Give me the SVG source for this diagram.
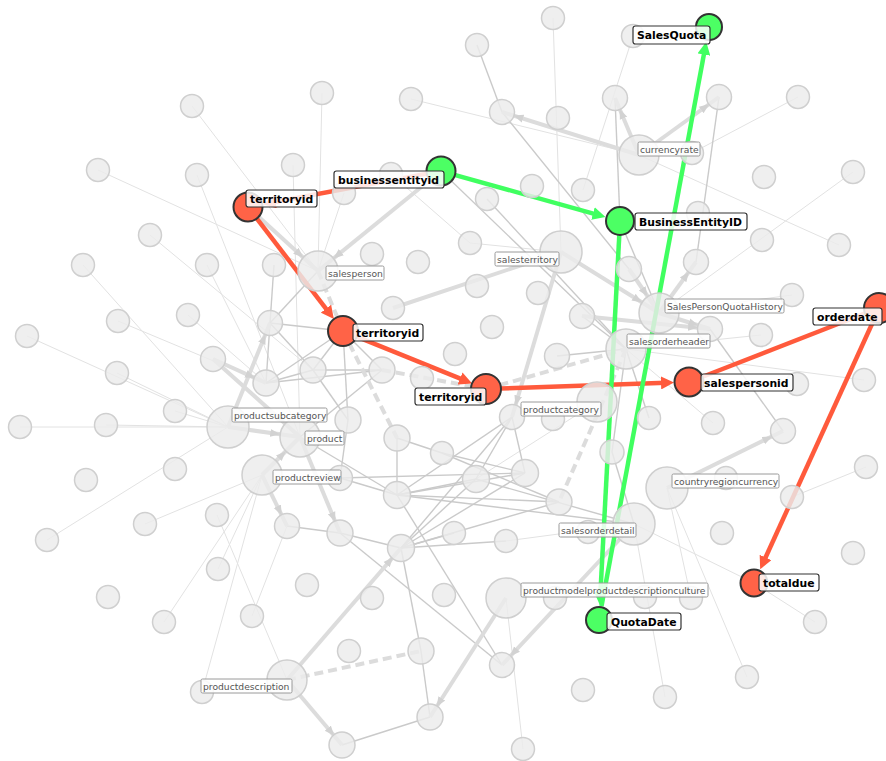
<svg xmlns="http://www.w3.org/2000/svg" width="886" height="761" viewBox="0 0 886 761">
<style>
.t{fill:none;stroke:#e2e2e2;stroke-width:1}
.m{fill:none;stroke:#cacaca;stroke-width:1.4}
.k{fill:none;stroke:#dcdcdc;stroke-width:4}
.d{fill:none;stroke:#dcdcdc;stroke-width:4;stroke-dasharray:9 5}
.or{fill:none;stroke:#ff5a3c;stroke-width:4.5}
.gr{fill:none;stroke:#40ff60;stroke-width:4.5}
.n{fill:#ececec;fill-opacity:.82;stroke:#cfcfcf;stroke-width:1.5}
.ho{fill:#ff6347;stroke:#333;stroke-width:2}
.hg{fill:#4cff64;stroke:#333;stroke-width:2}
.lb{fill:#fff;fill-opacity:.85;stroke:#9a9a9a;stroke-width:1}
.lt{font-family:"DejaVu Sans","Noto Sans",sans-serif;font-size:9.2px;fill:#555}
.hb{fill:#fff;fill-opacity:.85;stroke:#333;stroke-width:1.2}
.ht{font-family:"DejaVu Sans","Noto Sans",sans-serif;font-size:10.8px;font-weight:bold;fill:#000}
</style>
<defs>
<marker id="ag12" viewBox="0 0 10 10" refX="22" refY="5" markerWidth="10" markerHeight="10" markerUnits="userSpaceOnUse" orient="auto"><path d="M0,1 L10,5 L0,9z" fill="#d2d2d2"/></marker>
<marker id="ag20" viewBox="0 0 10 10" refX="30" refY="5" markerWidth="10" markerHeight="10" markerUnits="userSpaceOnUse" orient="auto"><path d="M0,1 L10,5 L0,9z" fill="#d2d2d2"/></marker>
<marker id="ao" viewBox="0 0 10 10" refX="3.85" refY="5" markerWidth="13" markerHeight="13" markerUnits="userSpaceOnUse" orient="auto"><path d="M0,0 L10,5 L0,10z" fill="#ff5a3c"/></marker>
<marker id="agr" viewBox="0 0 10 10" refX="3.85" refY="5" markerWidth="13" markerHeight="13" markerUnits="userSpaceOnUse" orient="auto"><path d="M0,0 L10,5 L0,10z" fill="#40ff60"/></marker>
</defs>
<rect width="886" height="761" fill="#fff"/>
<g id="connectors">
<g id="thin">
<line class="t" x1="192" y1="106" x2="318" y2="271"/>
<line class="t" x1="98" y1="170" x2="318" y2="271"/>
<line class="t" x1="197" y1="175" x2="300" y2="437"/>
<line class="t" x1="150" y1="235" x2="313" y2="370"/>
<line class="t" x1="322" y1="93" x2="318" y2="271"/>
<line class="t" x1="293" y1="165" x2="300" y2="437"/>
<line class="t" x1="344" y1="193" x2="318" y2="271"/>
<line class="t" x1="411" y1="99" x2="639" y2="155"/>
<line class="t" x1="553" y1="18" x2="561" y2="252"/>
<line class="t" x1="798" y1="97" x2="692" y2="153"/>
<line class="t" x1="639" y1="155" x2="839" y2="245"/>
<line class="t" x1="853" y1="172" x2="659" y2="313"/>
<line class="t" x1="633" y1="36" x2="583" y2="190"/>
<line class="t" x1="391" y1="174" x2="470" y2="243"/>
<line class="t" x1="561" y1="252" x2="470" y2="243"/>
<line class="t" x1="626" y1="349" x2="864" y2="380"/>
<line class="t" x1="626" y1="349" x2="761" y2="335"/>
<line class="t" x1="792" y1="295" x2="659" y2="313"/>
<line class="t" x1="866" y1="467" x2="792" y2="497"/>
<line class="t" x1="634" y1="524" x2="754" y2="583"/>
<line class="t" x1="754" y1="583" x2="815" y2="622"/>
<line class="t" x1="634" y1="524" x2="665" y2="697"/>
<line class="t" x1="667" y1="488" x2="747" y2="677"/>
<line class="t" x1="667" y1="488" x2="691" y2="598"/>
<line class="t" x1="188" y1="315" x2="266" y2="383"/>
<line class="t" x1="118" y1="321" x2="266" y2="383"/>
<line class="t" x1="117" y1="373" x2="228" y2="427"/>
<line class="t" x1="27" y1="336" x2="228" y2="427"/>
<line class="t" x1="83" y1="265" x2="228" y2="427"/>
<line class="t" x1="207" y1="265" x2="266" y2="383"/>
<line class="t" x1="20" y1="427" x2="228" y2="427"/>
<line class="t" x1="106" y1="425" x2="228" y2="427"/>
<line class="t" x1="175" y1="411" x2="228" y2="427"/>
<line class="t" x1="47" y1="540" x2="228" y2="427"/>
<line class="t" x1="145" y1="524" x2="262" y2="475"/>
<line class="t" x1="218" y1="569" x2="262" y2="475"/>
<line class="t" x1="164" y1="622" x2="262" y2="475"/>
<line class="t" x1="202" y1="692" x2="262" y2="475"/>
<line class="t" x1="217" y1="515" x2="287" y2="680"/>
<line class="t" x1="252" y1="616" x2="287" y2="526"/>
<line class="t" x1="506" y1="598" x2="523" y2="749"/>
<line class="t" x1="634" y1="524" x2="506" y2="541"/>
<line class="t" x1="713" y1="423" x2="626" y2="349"/>
<line class="t" x1="597" y1="402" x2="476" y2="479"/>
</g>
<g id="medium">
<line class="m" x1="477" y1="45" x2="502" y2="112"/>
<line class="m" x1="615" y1="98" x2="620" y2="221"/>
<line class="m" x1="719" y1="97" x2="696" y2="262"/>
<line class="m" x1="502" y1="112" x2="629" y2="269"/>
<line class="m" x1="441" y1="171" x2="626" y2="349"/>
<line class="m" x1="487" y1="199" x2="626" y2="349"/>
<line class="m" x1="620" y1="221" x2="659" y2="313"/>
<line class="m" x1="626" y1="349" x2="582" y2="316"/>
<line class="m" x1="626" y1="349" x2="557" y2="356"/>
<line class="m" x1="626" y1="349" x2="649" y2="418"/>
<line class="m" x1="626" y1="349" x2="612" y2="452"/>
<line class="m" x1="710" y1="329" x2="783" y2="431"/>
<line class="m" x1="343" y1="331" x2="270" y2="323"/>
<line class="m" x1="343" y1="331" x2="266" y2="383"/>
<line class="m" x1="343" y1="331" x2="313" y2="370"/>
<line class="m" x1="343" y1="331" x2="382" y2="370"/>
<line class="m" x1="343" y1="331" x2="348" y2="420"/>
<line class="m" x1="318" y1="271" x2="270" y2="323"/>
<line class="m" x1="270" y1="323" x2="266" y2="383"/>
<line class="m" x1="270" y1="323" x2="313" y2="370"/>
<line class="m" x1="266" y1="383" x2="313" y2="370"/>
<line class="m" x1="266" y1="383" x2="382" y2="370"/>
<line class="m" x1="313" y1="370" x2="382" y2="370"/>
<line class="m" x1="313" y1="370" x2="348" y2="420"/>
<line class="m" x1="382" y1="370" x2="300" y2="437"/>
<line class="m" x1="274" y1="265" x2="270" y2="323"/>
<line class="m" x1="300" y1="437" x2="397" y2="495"/>
<line class="m" x1="340" y1="478" x2="397" y2="495"/>
<line class="m" x1="340" y1="478" x2="525" y2="473"/>
<line class="m" x1="348" y1="420" x2="340" y2="478"/>
<line class="m" x1="397" y1="438" x2="397" y2="495"/>
<line class="m" x1="512" y1="417" x2="476" y2="479"/>
<line class="m" x1="512" y1="417" x2="397" y2="495"/>
<line class="m" x1="512" y1="417" x2="401" y2="548"/>
<line class="m" x1="512" y1="417" x2="525" y2="473"/>
<line class="m" x1="442" y1="453" x2="559" y2="502"/>
<line class="m" x1="442" y1="453" x2="525" y2="473"/>
<line class="m" x1="397" y1="438" x2="442" y2="453"/>
<line class="m" x1="397" y1="495" x2="525" y2="473"/>
<line class="m" x1="397" y1="495" x2="559" y2="502"/>
<line class="m" x1="397" y1="495" x2="476" y2="479"/>
<line class="m" x1="397" y1="495" x2="634" y2="524"/>
<line class="m" x1="476" y1="479" x2="634" y2="524"/>
<line class="m" x1="401" y1="548" x2="525" y2="473"/>
<line class="m" x1="401" y1="548" x2="559" y2="502"/>
<line class="m" x1="401" y1="548" x2="476" y2="479"/>
<line class="m" x1="401" y1="548" x2="506" y2="541"/>
<line class="m" x1="401" y1="548" x2="454" y2="533"/>
<line class="m" x1="401" y1="548" x2="340" y2="533"/>
<line class="m" x1="401" y1="548" x2="421" y2="651"/>
<line class="m" x1="421" y1="651" x2="430" y2="717"/>
<line class="m" x1="397" y1="495" x2="502" y2="665"/>
<line class="m" x1="340" y1="533" x2="502" y2="665"/>
<line class="m" x1="287" y1="526" x2="340" y2="533"/>
<line class="m" x1="342" y1="745" x2="430" y2="717"/>
<line class="m" x1="612" y1="452" x2="634" y2="524"/>
</g>
<g id="thick">
<line class="k" x1="639" y1="155" x2="502" y2="112" marker-end="url(#ag12)"/>
<line class="k" x1="639" y1="155" x2="615" y2="98" marker-end="url(#ag12)"/>
<line class="k" x1="639" y1="155" x2="719" y2="97" marker-end="url(#ag12)"/>
<line class="k" x1="441" y1="171" x2="318" y2="271" marker-end="url(#ag20)"/>
<line class="k" x1="248" y1="207" x2="318" y2="271" marker-end="url(#ag20)"/>
<line class="k" x1="393" y1="308" x2="561" y2="252" marker-end="url(#ag20)"/>
<line class="k" x1="561" y1="252" x2="659" y2="313" marker-end="url(#ag20)"/>
<line class="k" x1="561" y1="252" x2="512" y2="417" marker-end="url(#ag12)"/>
<line class="k" x1="659" y1="313" x2="696" y2="262" marker-end="url(#ag12)"/>
<line class="k" x1="659" y1="313" x2="710" y2="329" marker-end="url(#ag12)"/>
<line class="k" x1="582" y1="316" x2="710" y2="329" marker-end="url(#ag12)"/>
<line class="k" x1="629" y1="269" x2="659" y2="313" marker-end="url(#ag20)"/>
<line class="k" x1="667" y1="488" x2="783" y2="431" marker-end="url(#ag12)"/>
<line class="k" x1="228" y1="427" x2="270" y2="323" marker-end="url(#ag12)"/>
<line class="k" x1="228" y1="427" x2="300" y2="437" marker-end="url(#ag20)"/>
<line class="k" x1="213" y1="359" x2="266" y2="383" marker-end="url(#ag12)"/>
<line class="k" x1="213" y1="359" x2="300" y2="437" marker-end="url(#ag20)"/>
<line class="k" x1="262" y1="475" x2="300" y2="437" marker-end="url(#ag20)"/>
<line class="k" x1="262" y1="475" x2="287" y2="526" marker-end="url(#ag12)"/>
<line class="k" x1="300" y1="437" x2="340" y2="533" marker-end="url(#ag12)"/>
<line class="k" x1="287" y1="680" x2="401" y2="548" marker-end="url(#ag12)"/>
<line class="k" x1="287" y1="680" x2="342" y2="745" marker-end="url(#ag12)"/>
<line class="k" x1="506" y1="598" x2="430" y2="717" marker-end="url(#ag12)"/>
<line class="k" x1="634" y1="524" x2="502" y2="665" marker-end="url(#ag12)"/>
<line class="d" x1="318" y1="271" x2="343" y2="331"/>
<line class="d" x1="343" y1="331" x2="397" y2="438"/>
<line class="d" x1="626" y1="349" x2="559" y2="502"/>
<line class="d" x1="382" y1="370" x2="486" y2="389"/>
<line class="d" x1="486" y1="389" x2="626" y2="349"/>
<line class="d" x1="287" y1="680" x2="421" y2="651"/>
</g>
<g id="highlighted">
<line class="or" x1="427.2" y1="173.6" x2="270.6" y2="202.8" marker-end="url(#ao)"/>
<line class="or" x1="256.5" y1="218.1" x2="329" y2="312.7" marker-end="url(#ao)"/>
<line class="or" x1="356" y1="336.3" x2="464.7" y2="380.4" marker-end="url(#ao)"/>
<line class="or" x1="500" y1="388.5" x2="666" y2="382.8" marker-end="url(#ao)"/>
<line class="or" x1="866" y1="313" x2="702" y2="377"/>
<line class="or" x1="873" y1="321.7" x2="763.5" y2="562" marker-end="url(#ao)"/>
<line class="gr" x1="454.5" y1="174.8" x2="597.8" y2="214.8" marker-end="url(#agr)"/>
<line class="gr" x1="619.3" y1="235" x2="600.2" y2="597" marker-end="url(#agr)"/>
<line class="gr" x1="601.5" y1="606.2" x2="704.8" y2="49.6" marker-end="url(#agr)"/>
</g>
</g>
<g id="nodes">
<g id="n1"><circle class="n" cx="553" cy="18" r="11.5"/></g>
<g id="n2"><circle class="n" cx="477" cy="45" r="11.5"/></g>
<g id="n3"><circle class="n" cx="633" cy="36" r="11.5"/></g>
<g id="n4"><circle class="n" cx="322" cy="93" r="11.5"/></g>
<g id="n5"><circle class="n" cx="411" cy="99" r="11.5"/></g>
<g id="n6"><circle class="n" cx="615" cy="98" r="12.5"/></g>
<g id="n7"><circle class="n" cx="719" cy="97" r="12.5"/></g>
<g id="n8"><circle class="n" cx="798" cy="97" r="11.5"/></g>
<g id="n9"><circle class="n" cx="192" cy="106" r="11.5"/></g>
<g id="n10"><circle class="n" cx="502" cy="112" r="12.5"/></g>
<g id="n11"><circle class="n" cx="558" cy="118" r="11.5"/></g>
<g id="n12"><circle class="n" cx="692" cy="153" r="11.5"/></g>
<g id="n13"><circle class="n" cx="293" cy="165" r="11.5"/></g>
<g id="n14"><circle class="n" cx="98" cy="170" r="11.5"/></g>
<g id="n15"><circle class="n" cx="853" cy="172" r="11.5"/></g>
<g id="n16"><circle class="n" cx="391" cy="174" r="11.5"/></g>
<g id="n17"><circle class="n" cx="197" cy="175" r="11.5"/></g>
<g id="n18"><circle class="n" cx="764" cy="177" r="11.5"/></g>
<g id="n19"><circle class="n" cx="532" cy="186" r="11.5"/></g>
<g id="n20"><circle class="n" cx="583" cy="190" r="11.5"/></g>
<g id="n21"><circle class="n" cx="344" cy="193" r="11.5"/></g>
<g id="n22"><circle class="n" cx="487" cy="199" r="11.5"/></g>
<g id="n23"><circle class="n" cx="698" cy="213" r="11.5"/></g>
<g id="n24"><circle class="n" cx="150" cy="235" r="11.5"/></g>
<g id="n25"><circle class="n" cx="762" cy="240" r="11.5"/></g>
<g id="n26"><circle class="n" cx="839" cy="245" r="11.5"/></g>
<g id="n27"><circle class="n" cx="470" cy="243" r="11.5"/></g>
<g id="n28"><circle class="n" cx="372" cy="254" r="11.5"/></g>
<g id="n29"><circle class="n" cx="418" cy="262" r="11.5"/></g>
<g id="n30"><circle class="n" cx="83" cy="265" r="11.5"/></g>
<g id="n31"><circle class="n" cx="207" cy="265" r="11.5"/></g>
<g id="n32"><circle class="n" cx="274" cy="265" r="11.5"/></g>
<g id="n33"><circle class="n" cx="629" cy="269" r="12.5"/></g>
<g id="n34"><circle class="n" cx="696" cy="262" r="12.5"/></g>
<g id="n35"><circle class="n" cx="477" cy="286" r="11.5"/></g>
<g id="n36"><circle class="n" cx="538" cy="293" r="11.5"/></g>
<g id="n37"><circle class="n" cx="792" cy="295" r="11.5"/></g>
<g id="n38"><circle class="n" cx="393" cy="308" r="11.5"/></g>
<g id="n39"><circle class="n" cx="188" cy="315" r="11.5"/></g>
<g id="n40"><circle class="n" cx="582" cy="316" r="12.5"/></g>
<g id="n41"><circle class="n" cx="118" cy="321" r="11.5"/></g>
<g id="n42"><circle class="n" cx="270" cy="323" r="12.5"/></g>
<g id="n43"><circle class="n" cx="492" cy="327" r="11.5"/></g>
<g id="n44"><circle class="n" cx="27" cy="336" r="11.5"/></g>
<g id="n45"><circle class="n" cx="710" cy="329" r="12.5"/></g>
<g id="n46"><circle class="n" cx="761" cy="335" r="11.5"/></g>
<g id="n47"><circle class="n" cx="455" cy="354" r="11.5"/></g>
<g id="n48"><circle class="n" cx="557" cy="356" r="12.5"/></g>
<g id="n49"><circle class="n" cx="213" cy="359" r="12.5"/></g>
<g id="n50"><circle class="n" cx="313" cy="370" r="13"/></g>
<g id="n51"><circle class="n" cx="382" cy="370" r="13"/></g>
<g id="n52"><circle class="n" cx="117" cy="373" r="11.5"/></g>
<g id="n53"><circle class="n" cx="422" cy="378" r="11.5"/></g>
<g id="n54"><circle class="n" cx="266" cy="383" r="13"/></g>
<g id="n55"><circle class="n" cx="864" cy="380" r="11.5"/></g>
<g id="n56"><circle class="n" cx="797" cy="384" r="11.5"/></g>
<g id="n57"><circle class="n" cx="175" cy="411" r="11.5"/></g>
<g id="n58"><circle class="n" cx="348" cy="420" r="13"/></g>
<g id="n59"><circle class="n" cx="512" cy="417" r="12.5"/></g>
<g id="n60"><circle class="n" cx="553" cy="419" r="11.5"/></g>
<g id="n61"><circle class="n" cx="649" cy="418" r="11.5"/></g>
<g id="n62"><circle class="n" cx="713" cy="423" r="11.5"/></g>
<g id="n63"><circle class="n" cx="783" cy="431" r="12.5"/></g>
<g id="n64"><circle class="n" cx="106" cy="425" r="11.5"/></g>
<g id="n65"><circle class="n" cx="20" cy="427" r="11.5"/></g>
<g id="n66"><circle class="n" cx="397" cy="438" r="13"/></g>
<g id="n67"><circle class="n" cx="612" cy="452" r="12"/></g>
<g id="n68"><circle class="n" cx="442" cy="453" r="11.5"/></g>
<g id="n69"><circle class="n" cx="175" cy="469" r="11.5"/></g>
<g id="n70"><circle class="n" cx="866" cy="467" r="11.5"/></g>
<g id="n71"><circle class="n" cx="86" cy="480" r="11.5"/></g>
<g id="n72"><circle class="n" cx="340" cy="478" r="12.5"/></g>
<g id="n73"><circle class="n" cx="476" cy="479" r="13.5"/></g>
<g id="n74"><circle class="n" cx="525" cy="473" r="13.5"/></g>
<g id="n75"><circle class="n" cx="397" cy="495" r="13.5"/></g>
<g id="n76"><circle class="n" cx="792" cy="497" r="11.5"/></g>
<g id="n77"><circle class="n" cx="559" cy="502" r="13"/></g>
<g id="n78"><circle class="n" cx="217" cy="515" r="11.5"/></g>
<g id="n79"><circle class="n" cx="145" cy="524" r="11.5"/></g>
<g id="n80"><circle class="n" cx="287" cy="526" r="12.5"/></g>
<g id="n81"><circle class="n" cx="340" cy="533" r="13"/></g>
<g id="n82"><circle class="n" cx="454" cy="533" r="11.5"/></g>
<g id="n83"><circle class="n" cx="506" cy="541" r="11.5"/></g>
<g id="n84"><circle class="n" cx="401" cy="548" r="13.5"/></g>
<g id="n85"><circle class="n" cx="588" cy="532" r="11.5"/></g>
<g id="n86"><circle class="n" cx="722" cy="533" r="11.5"/></g>
<g id="n87"><circle class="n" cx="47" cy="540" r="11.5"/></g>
<g id="n88"><circle class="n" cx="853" cy="553" r="11.5"/></g>
<g id="n89"><circle class="n" cx="218" cy="569" r="11.5"/></g>
<g id="n90"><circle class="n" cx="307" cy="585" r="11.5"/></g>
<g id="n91"><circle class="n" cx="372" cy="598" r="11.5"/></g>
<g id="n92"><circle class="n" cx="444" cy="595" r="11.5"/></g>
<g id="n93"><circle class="n" cx="555" cy="598" r="11.5"/></g>
<g id="n94"><circle class="n" cx="645" cy="597" r="11.5"/></g>
<g id="n95"><circle class="n" cx="691" cy="598" r="11.5"/></g>
<g id="n96"><circle class="n" cx="108" cy="597" r="11.5"/></g>
<g id="n97"><circle class="n" cx="164" cy="622" r="11.5"/></g>
<g id="n98"><circle class="n" cx="252" cy="616" r="11.5"/></g>
<g id="n99"><circle class="n" cx="815" cy="622" r="11.5"/></g>
<g id="n100"><circle class="n" cx="349" cy="651" r="11.5"/></g>
<g id="n101"><circle class="n" cx="421" cy="651" r="13"/></g>
<g id="n102"><circle class="n" cx="502" cy="665" r="12.5"/></g>
<g id="n103"><circle class="n" cx="747" cy="677" r="11.5"/></g>
<g id="n104"><circle class="n" cx="583" cy="690" r="11.5"/></g>
<g id="n105"><circle class="n" cx="665" cy="697" r="11.5"/></g>
<g id="n106"><circle class="n" cx="202" cy="692" r="11.5"/></g>
<g id="n107"><circle class="n" cx="430" cy="717" r="13"/></g>
<g id="n108"><circle class="n" cx="342" cy="745" r="13"/></g>
<g id="n109"><circle class="n" cx="523" cy="749" r="11.5"/></g>
<g id="n110"><circle class="n" cx="726" cy="478" r="11.5"/></g>

<g id="currencyrate"><circle class="n" cx="639" cy="155" r="20"/><rect class="lb" x="638" y="142" width="62" height="14" rx="1.5"/><text class="lt" x="640" y="152.5">currencyrate</text></g>
<g id="salesterritory"><circle class="n" cx="561" cy="252" r="21"/><rect class="lb" x="495" y="252" width="64" height="14" rx="1.5"/><text class="lt" x="497" y="262.5">salesterritory</text></g>
<g id="salesperson"><circle class="n" cx="318" cy="271" r="20"/><rect class="lb" x="326" y="266" width="58" height="14" rx="1.5"/><text class="lt" x="328" y="276.5">salesperson</text></g>
<g id="SalesPersonQuotaHistory"><circle class="n" cx="659" cy="313" r="20"/><rect class="lb" x="665" y="299" width="119" height="14" rx="1.5"/><text class="lt" x="667" y="309.5">SalesPersonQuotaHistory</text></g>
<g id="salesorderheader"><circle class="n" cx="626" cy="349" r="20"/><rect class="lb" x="627" y="334" width="83" height="14" rx="1.5"/><text class="lt" x="629" y="344.5">salesorderheader</text></g>
<g id="productcategory"><circle class="n" cx="597" cy="402" r="20"/><rect class="lb" x="521" y="402" width="80" height="14" rx="1.5"/><text class="lt" x="523" y="412.5">productcategory</text></g>
<g id="product"><circle class="n" cx="300" cy="437" r="20"/><rect class="lb" x="305" y="431" width="39" height="14" rx="1.5"/><text class="lt" x="307" y="441.5">product</text></g>
<g id="productreview"><circle class="n" cx="262" cy="475" r="20"/><rect class="lb" x="273" y="470" width="68" height="14" rx="1.5"/><text class="lt" x="275" y="480.5">productreview</text></g>
<g id="productsubcategory"><circle class="n" cx="228" cy="427" r="21"/><rect class="lb" x="232" y="408" width="95" height="14" rx="1.5"/><text class="lt" x="234" y="418.5">productsubcategory</text></g>
<g id="countryregioncurrency"><circle class="n" cx="667" cy="488" r="21"/><rect class="lb" x="672" y="474" width="107" height="14" rx="1.5"/><text class="lt" x="674" y="484.5">countryregioncurrency</text></g>
<g id="salesorderdetail"><circle class="n" cx="634" cy="524" r="21"/><rect class="lb" x="559" y="523" width="77" height="14" rx="1.5"/><text class="lt" x="561" y="533.5">salesorderdetail</text></g>
<g id="productmodelproductdescriptionculture"><circle class="n" cx="506" cy="598" r="20"/><rect class="lb" x="521" y="583" width="187" height="14" rx="1.5"/><text class="lt" x="523" y="593.5">productmodelproductdescriptionculture</text></g>
<g id="productdescription"><circle class="n" cx="287" cy="680" r="20"/><rect class="lb" x="201" y="679" width="91" height="14" rx="1.5"/><text class="lt" x="203" y="689.5">productdescription</text></g>

<g id="territoryid-1"><circle class="ho" cx="248" cy="207" r="14.5"/><rect class="hb" x="246" y="190" width="71" height="17" rx="2.5"/><text class="ht" x="250" y="202.5">territoryid</text></g>
<g id="territoryid-2"><circle class="ho" cx="343" cy="331" r="15"/><rect class="hb" x="353" y="324" width="70" height="17" rx="2.5"/><text class="ht" x="356" y="336.5">territoryid</text></g>
<g id="territoryid-3"><circle class="ho" cx="486" cy="389" r="15"/><rect class="hb" x="415" y="388" width="71" height="17" rx="2.5"/><text class="ht" x="419" y="400.5">territoryid</text></g>
<g id="salespersonid"><circle class="ho" cx="689" cy="382" r="14.5"/><rect class="hb" x="701" y="374" width="92" height="17" rx="2.5"/><text class="ht" x="704" y="386.5">salespersonid</text></g>
<g id="orderdate"><circle class="ho" cx="879" cy="308" r="15"/><rect class="hb" x="813" y="308" width="69" height="17" rx="2.5"/><text class="ht" x="817" y="320.5">orderdate</text></g>
<g id="totaldue"><circle class="ho" cx="754" cy="583" r="13.5"/><rect class="hb" x="759" y="574" width="60" height="17" rx="2.5"/><text class="ht" x="763" y="586.5">totaldue</text></g>
<g id="businessentityid"><circle class="hg" cx="441" cy="171" r="14.5"/><rect class="hb" x="334" y="171" width="110" height="17" rx="2.5"/><text class="ht" x="338" y="183.5">businessentityid</text></g>
<g id="BusinessEntityID"><circle class="hg" cx="620" cy="221" r="14"/><rect class="hb" x="635" y="213" width="112" height="17" rx="2.5"/><text class="ht" x="639" y="225.5">BusinessEntityID</text></g>
<g id="SalesQuota"><circle class="hg" cx="709" cy="27" r="13"/><rect class="hb" x="633" y="26" width="77" height="18" rx="2.5"/><text class="ht" x="637" y="39">SalesQuota</text></g>
<g id="QuotaDate"><circle class="hg" cx="599" cy="620" r="13"/><rect class="hb" x="607" y="613" width="74" height="17" rx="2.5"/><text class="ht" x="611" y="625.5">QuotaDate</text></g>
</g>
</svg>
